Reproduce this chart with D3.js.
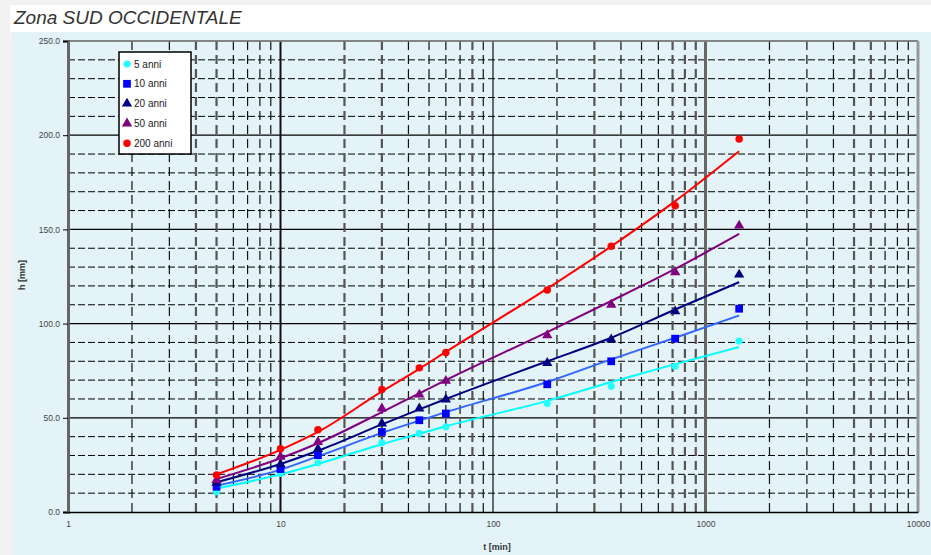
<!DOCTYPE html>
<html><head><meta charset="utf-8">
<script src="https://cdn.jsdelivr.net/npm/d3@7"></script>
<style>body{margin:0;background:#fff;}svg{display:block;font-family:"Liberation Sans",Arial,sans-serif;}</style>
</head><body><svg id="c" width="931" height="555"></svg>
<script>
// ---- data ----
const durations = [5, 10, 15, 30, 45, 60, 180, 360, 720, 1440];
const seriesNames = ["5 anni", "10 anni", "20 anni", "50 anni", "200 anni"];
const obs5   = [10.8, 20.5, 26.1, 36.7, 41.7, 45.2, 57.6, 66.7, 77.3, 90.7];
const obs10  = [13.4, 22.8, 30.2, 42.5, 48.7, 52.3, 67.8, 80.0, 92.0, 107.9];
const obs20  = [15.5, 25.3, 33.4, 47.0, 54.9, 59.7, 79.1, 91.6, 106.5, 126.0];
const obs50  = [17.0, 29.3, 37.2, 54.9, 62.3, 69.6, 93.8, 110.0, 127.3, 152.0];
const obs200 = [19.6, 33.6, 43.6, 65.0, 76.5, 84.6, 117.8, 141.0, 162.6, 198.0];
const fit5   = [12.5, 20.0, 25.5, 36.0, 41.5, 45.5, 59.0, 69.0, 78.5, 87.6];
const fit10  = [14.0, 22.5, 29.5, 42.0, 48.5, 53.0, 69.0, 81.0, 92.5, 104.3];
const fit20  = [15.8, 25.5, 32.5, 46.5, 54.5, 60.0, 80.0, 92.5, 107.5, 122.0];
const fit50  = [17.5, 28.5, 36.5, 53.0, 63.0, 70.0, 95.5, 112.0, 129.0, 147.6];
const fit200 = [20.0, 33.0, 42.5, 64.0, 76.0, 85.0, 118.6, 141.0, 165.0, 191.5];
const yTicks = [0, 50, 100, 150, 200, 250];
const xTicks = [1, 10, 100, 1000, 10000];
const heavyGridT = [4, 5, 20, 30, 80, 300, 700, 800, 900, 5000, 6000];

const lineColors   = ["#00ffff", "#3366ff", "#000080", "#800080", "#ff0000"];
const markerColors = ["#22ffff", "#0000ff", "#000080", "#800080", "#ff0000"];
const markerShapes = [d3.symbolCircle, d3.symbolSquare, d3.symbolTriangle, d3.symbolTriangle, d3.symbolCircle];
const markerSizes  = [40, 60, 46, 46, 44];
const obsAll = [obs5, obs10, obs20, obs50, obs200];
const fitAll = [fit5, fit10, fit20, fit50, fit200];

const svg = d3.select("#c");
// backgrounds
svg.append("rect").attr("x",0).attr("y",0).attr("width",931).attr("height",555).attr("fill","#f2f2f2");
svg.append("rect").attr("x",10).attr("y",5).attr("width",921).attr("height",28).attr("fill","#ffffff");
svg.append("rect").attr("x",12).attr("y",32).attr("width",919).attr("height",523).attr("fill","#e4f3f8");

svg.append("text").attr("x",14).attr("y",24).attr("font-size",19).attr("font-style","italic")
  .attr("fill","#333").text("Zona SUD OCCIDENTALE");

const x = d3.scaleLog().domain([1, 10000]).range([68, 918]);
const y = d3.scaleLinear().domain([0, 250]).range([512, 41]);

const g = svg.append("g");
// horizontal grid
for (let v = 10; v <= 250; v += 10) {
  const major = v % 50 === 0;
  g.append("line").attr("x1", x(1)).attr("x2", x(10000)).attr("y1", y(v)).attr("y2", y(v))
    .attr("stroke", "#000").attr("stroke-width", major ? 1.2 : 1)
    .attr("stroke-dasharray", major ? null : "7,3");
}
// vertical grid
const minorT = [];
for (let d = 1; d < 10000; d *= 10) for (let k = 2; k <= 9; k++) minorT.push(d * k);
minorT.forEach(t => {
  const heavy = heavyGridT.includes(t);
  g.append("line").attr("x1", x(t)).attr("x2", x(t)).attr("y1", y(250)).attr("y2", y(0))
    .attr("stroke", heavy ? "#555" : "#111").attr("stroke-width", heavy ? 2.2 : 1.2)
    .attr("stroke-dasharray", "9,5");
});
[10, 100, 1000].forEach(t => {
  g.append("line").attr("x1", x(t)).attr("x2", x(t)).attr("y1", y(250)).attr("y2", y(0))
    .attr("stroke", t === 1000 ? "#666" : "#111").attr("stroke-width", t === 100 ? 1.2 : (t === 1000 ? 3 : 2));
});
// frame
g.append("line").attr("x1", x(1)).attr("x2", x(10000)).attr("y1", y(250)).attr("y2", y(250)).attr("stroke","#888").attr("stroke-width",1.5);
g.append("line").attr("x1", x(10000)).attr("x2", x(10000)).attr("y1", y(250)).attr("y2", y(0)).attr("stroke","#999").attr("stroke-width",3);

// axes
const yAxis = d3.axisLeft(y).tickValues(yTicks).tickFormat(d3.format(".1f")).tickSize(5).tickPadding(3);
const ya = svg.append("g").attr("transform", `translate(${x(1)},0)`).call(yAxis);
ya.select(".domain").attr("stroke","#666").attr("stroke-width",3);
ya.selectAll("text").attr("font-size",8.5).attr("fill","#444");
const xAxis = d3.axisBottom(x).tickValues(xTicks).tickFormat(d3.format("d")).tickSize(0).tickPadding(9);
const xa = svg.append("g").attr("transform", `translate(0,${y(0)})`).call(xAxis);
xa.select(".domain").attr("stroke","#000").attr("stroke-width",1.5);
xa.selectAll("text").attr("font-size",8.5).attr("fill","#444");

svg.append("text").attr("x", 497).attr("y", 550).attr("text-anchor","middle").attr("font-size",9)
  .attr("font-weight","bold").attr("fill","#333").text("t [min]");
svg.append("text").attr("transform","translate(25,275) rotate(-90)").attr("text-anchor","middle")
  .attr("font-size",9).attr("font-weight","bold").attr("fill","#333").text("h [mm]");

// fit curves
const line = d3.line().x(d => x(d[0])).y(d => y(d[1])).curve(d3.curveMonotoneX);
fitAll.forEach((f, i) => {
  svg.append("path").datum(durations.map((t, j) => [t, f[j]])).attr("d", line)
    .attr("fill","none").attr("stroke", lineColors[i]).attr("stroke-width", 2);
});
// markers
obsAll.forEach((o, i) => {
  svg.append("g").selectAll("path").data(durations.map((t, j) => [t, o[j]])).join("path")
    .attr("transform", d => `translate(${x(d[0])},${y(d[1])})`)
    .attr("d", d3.symbol().type(markerShapes[i]).size(markerSizes[i]))
    .attr("fill", markerColors[i]);
});

// legend
const lg = svg.append("g");
lg.append("rect").attr("x",119).attr("y",52).attr("width",72).attr("height",102)
  .attr("fill","#fff").attr("stroke","#000").attr("stroke-width",1.5);
seriesNames.forEach((n, i) => {
  const cy = 64 + i * 19.8;
  lg.append("path").attr("transform", `translate(127,${cy})`)
    .attr("d", d3.symbol().type(markerShapes[i]).size(markerSizes[i])).attr("fill", markerColors[i]);
  lg.append("text").attr("x",134).attr("y",cy + 3.5).attr("font-size",10).attr("fill","#222").text(n);
});
</script></body></html>
